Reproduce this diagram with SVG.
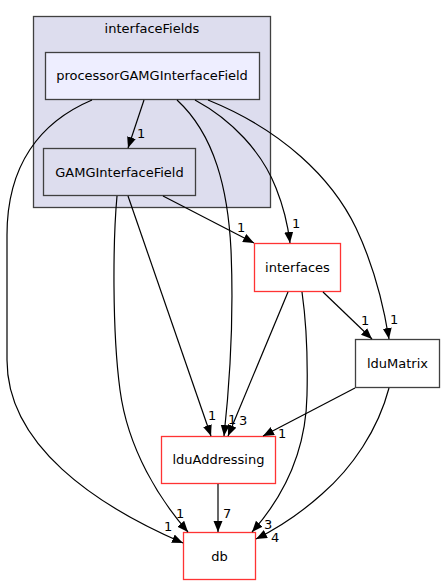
<svg xmlns="http://www.w3.org/2000/svg" width="445" height="585" viewBox="0 0 445 585">
<style>
text{font-family:"DejaVu Sans","Liberation Sans",sans-serif;font-size:13px;fill:#000}
.c{text-anchor:middle}
.e{fill:none;stroke:#000;stroke-width:1.2}
.red{fill:#fff;stroke:#ff3333;stroke-width:1.3}
.blk{fill:#fff;stroke:#404040;stroke-width:1.3}
</style>
<defs>
<marker id="a" markerUnits="userSpaceOnUse" markerWidth="12" markerHeight="10" refX="11" refY="4.5" orient="auto">
<path d="M0,0 L11,4.5 L0,9 z" fill="#000"/>
</marker>
</defs>
<rect width="445" height="585" fill="#fff"/>
<g id="cluster_interfaceFields">
<rect x="33.5" y="16.5" width="237" height="191" fill="#ddddee" stroke="#404040" stroke-width="1.3"/>
<text class="c" x="152" y="32.5">interfaceFields</text>
</g>
<g id="node_processorGAMGInterfaceField">
<rect x="45.5" y="52.5" width="214" height="47" fill="#eeeeff" stroke="#404040" stroke-width="1.3"/>
<text class="c" x="152" y="80">processorGAMGInterfaceField</text>
</g>
<g id="node_GAMGInterfaceField">
<rect x="43.5" y="148.5" width="152" height="47" fill="#ddddee" stroke="#404040" stroke-width="1.3"/>
<text class="c" x="119.5" y="176.5">GAMGInterfaceField</text>
</g>
<g id="node_interfaces">
<rect class="red" x="254.5" y="243.5" width="86" height="48"/>
<text class="c" x="297.5" y="272">interfaces</text>
</g>
<g id="node_lduMatrix">
<rect class="blk" x="355.5" y="339.5" width="84" height="48"/>
<text class="c" x="397.5" y="368">lduMatrix</text>
</g>
<g id="node_lduAddressing">
<rect class="red" x="161.5" y="436.5" width="114" height="47"/>
<text class="c" x="218.5" y="464">lduAddressing</text>
</g>
<g id="node_db">
<rect class="red" x="183.5" y="532.5" width="72" height="47"/>
<text class="c" x="219.5" y="561">db</text>
</g>
<g id="edges">
<path class="e" marker-end="url(#a)" d="M144,100 L128,148"/>
<text x="137" y="138">1</text>
<path class="e" marker-end="url(#a)" d="M92,100 C40,122 7,165 7,235 L7,360 C7,445 95,505 183,543"/>
<text x="164" y="531">1</text>
<path class="e" marker-end="url(#a)" d="M177,100 C215,135 228,190 231,250 C234,320 229,390 224,436"/>
<text x="228" y="424">1</text>
<path class="e" marker-end="url(#a)" d="M195,100 C232,120 262,152 276,188 C284,208 288,226 290,243"/>
<text x="292" y="228">1</text>
<path class="e" marker-end="url(#a)" d="M208,100 C282,130 332,178 356,228 C373,264 383,302 389,339"/>
<text x="390" y="324">1</text>
<path class="e" marker-end="url(#a)" d="M163,196 L254,243"/>
<text x="237" y="232">1</text>
<path class="e" marker-end="url(#a)" d="M128,196 L211,436"/>
<text x="208" y="420">1</text>
<path class="e" marker-end="url(#a)" d="M117,196 C113,240 112,330 120,390 C128,450 160,500 188,532"/>
<text x="176" y="518">1</text>
<path class="e" marker-end="url(#a)" d="M288,292 L228,436"/>
<text x="239" y="425">3</text>
<path class="e" marker-end="url(#a)" d="M323,292 L372,339"/>
<text x="361" y="325">1</text>
<path class="e" marker-end="url(#a)" d="M302,292 C306,320 308,352 307,395 C306,450 285,495 252,532"/>
<text x="264" y="529">3</text>
<path class="e" marker-end="url(#a)" d="M355,388 L263,436"/>
<text x="278" y="438">1</text>
<path class="e" marker-end="url(#a)" d="M389,388 C378,430 352,468 322,494 C302,512 282,526 256,539"/>
<text x="271" y="542">4</text>
<path class="e" marker-end="url(#a)" d="M218,484 L218,532"/>
<text x="223" y="518">7</text>
</g>
</svg>
